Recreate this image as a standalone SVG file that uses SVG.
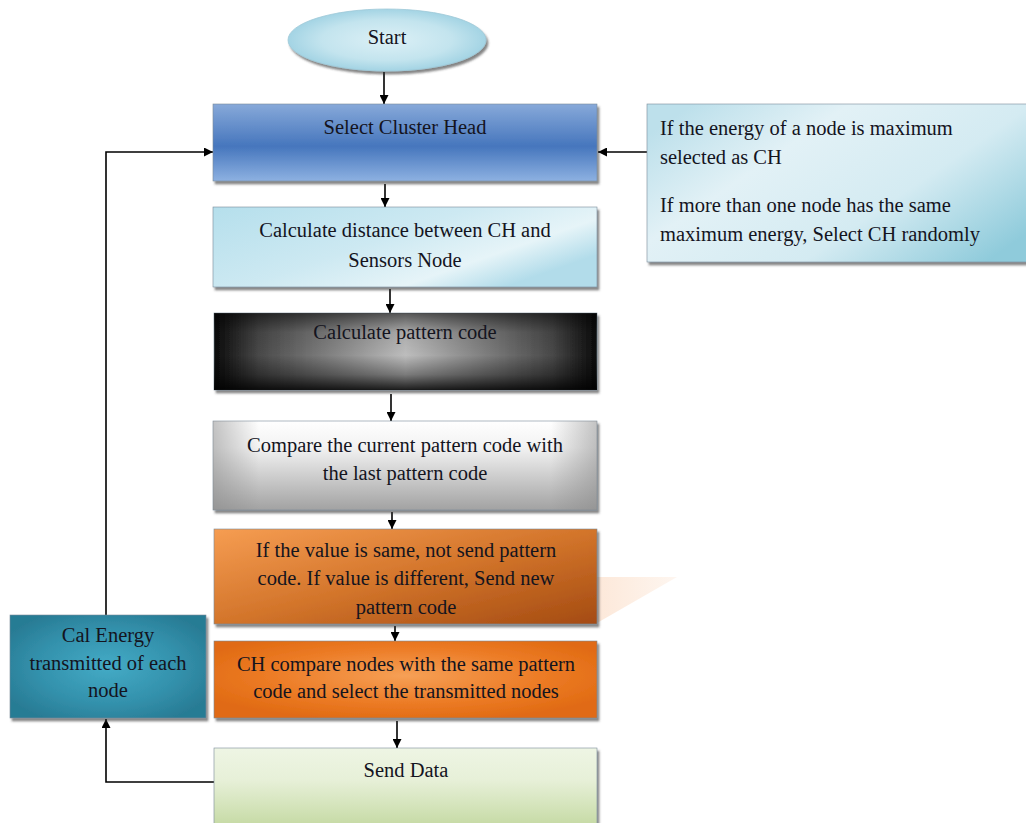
<svg xmlns="http://www.w3.org/2000/svg" width="1026" height="823" viewBox="0 0 1026 823">
  <defs>
    <marker id="arr" viewBox="0 0 10 10" refX="10" refY="5" markerWidth="9" markerHeight="9" markerUnits="userSpaceOnUse" orient="auto">
      <path d="M0,0 L10,5 L0,10 z" fill="#000"/>
    </marker>
    <filter id="sh" x="-5%" y="-5%" width="110%" height="120%">
      <feDropShadow dx="2" dy="3" stdDeviation="0.8" flood-color="#333" flood-opacity="0.6"/>
    </filter>
    <radialGradient id="gStart" cx="0.5" cy="0.5" r="0.55">
      <stop offset="0" stop-color="#dcf0f6"/>
      <stop offset="0.6" stop-color="#c3e4ee"/>
      <stop offset="1" stop-color="#9acfe1"/>
    </radialGradient>
    <linearGradient id="gSel" x1="0" y1="0" x2="0" y2="1">
      <stop offset="0" stop-color="#87a9d9"/>
      <stop offset="0.55" stop-color="#4676bd"/>
      <stop offset="1" stop-color="#8db1e1"/>
    </linearGradient>
    <linearGradient id="gDist" x1="0" y1="0" x2="1" y2="0.6">
      <stop offset="0" stop-color="#b5dfec"/>
      <stop offset="0.5" stop-color="#cde9f2"/>
      <stop offset="0.8" stop-color="#e6f4f8"/>
      <stop offset="1" stop-color="#b2dcea"/>
    </linearGradient>
    <linearGradient id="gPatH" x1="0" y1="0" x2="1" y2="0">
      <stop offset="0" stop-color="#0a0a0a"/>
      <stop offset="0.12" stop-color="#4a4a4a"/>
      <stop offset="0.5" stop-color="#bdbdbd"/>
      <stop offset="0.88" stop-color="#4a4a4a"/>
      <stop offset="1" stop-color="#0a0a0a"/>
    </linearGradient>
    <linearGradient id="gPatV" x1="0" y1="0" x2="0" y2="1">
      <stop offset="0" stop-color="#000" stop-opacity="0.55"/>
      <stop offset="0.25" stop-color="#000" stop-opacity="0.1"/>
      <stop offset="0.55" stop-color="#000" stop-opacity="0"/>
      <stop offset="0.8" stop-color="#000" stop-opacity="0.35"/>
      <stop offset="1" stop-color="#000" stop-opacity="0.85"/>
    </linearGradient>
    <linearGradient id="gCmp" x1="0" y1="0" x2="0" y2="1">
      <stop offset="0" stop-color="#ffffff"/>
      <stop offset="0.3" stop-color="#f2f2f2"/>
      <stop offset="1" stop-color="#a2a2a2"/>
    </linearGradient>
    <linearGradient id="gCmpEdge" x1="0" y1="0" x2="1" y2="0">
      <stop offset="0" stop-color="#888" stop-opacity="0.5"/>
      <stop offset="0.12" stop-color="#888" stop-opacity="0"/>
      <stop offset="0.88" stop-color="#888" stop-opacity="0"/>
      <stop offset="1" stop-color="#888" stop-opacity="0.5"/>
    </linearGradient>
    <linearGradient id="gOr1" x1="0" y1="0" x2="1" y2="1">
      <stop offset="0" stop-color="#f69d52"/>
      <stop offset="0.5" stop-color="#d3752b"/>
      <stop offset="1" stop-color="#a44b12"/>
    </linearGradient>
    <radialGradient id="gOr2" cx="0.5" cy="0.45" r="0.6">
      <stop offset="0" stop-color="#f6a056"/>
      <stop offset="0.6" stop-color="#ec7b25"/>
      <stop offset="1" stop-color="#e06a12"/>
    </radialGradient>
    <linearGradient id="gSend" x1="0" y1="0" x2="0" y2="1">
      <stop offset="0" stop-color="#eef5e4"/>
      <stop offset="0.4" stop-color="#e7f0d8"/>
      <stop offset="1" stop-color="#c4d9a2"/>
    </linearGradient>
    <radialGradient id="gCal" cx="0.5" cy="0.5" r="0.6">
      <stop offset="0" stop-color="#44abc6"/>
      <stop offset="0.6" stop-color="#3391ac"/>
      <stop offset="1" stop-color="#287b94"/>
    </radialGradient>
    <linearGradient id="gInfo" x1="0" y1="0.2" x2="1" y2="0.8">
      <stop offset="0" stop-color="#bde0eb"/>
      <stop offset="0.3" stop-color="#e2f1f6"/>
      <stop offset="0.65" stop-color="#d4ebf2"/>
      <stop offset="1" stop-color="#8fcbdb"/>
    </linearGradient>
    <linearGradient id="gTri" x1="0" y1="0" x2="1" y2="0">
      <stop offset="0" stop-color="#fbd9c0"/>
      <stop offset="1" stop-color="#fdf0e6"/>
    </linearGradient>
    <style>
      .t { font-family: "Liberation Serif", "Times New Roman", serif; font-size: 20.5px; fill: #14141e; }
      .c { text-anchor: middle; }
      .ln { fill: none; stroke: #000; stroke-width: 1.6; }
      .box { stroke: #7a8a99; stroke-width: 0.6; filter: url(#sh); }
    </style>
  </defs>

  <!-- decoration -->
  <polygon points="597,577 677,577 597,623" fill="url(#gTri)" opacity="0.6"/>

  <g id="connectors">
    <line class="ln" x1="384" y1="72" x2="384" y2="104" marker-end="url(#arr)"/>
    <line class="ln" x1="385" y1="184" x2="385" y2="207" marker-end="url(#arr)"/>
    <line class="ln" x1="390" y1="289" x2="390" y2="313" marker-end="url(#arr)"/>
    <line class="ln" x1="391" y1="394" x2="391" y2="421" marker-end="url(#arr)"/>
    <line class="ln" x1="392" y1="512" x2="392" y2="529" marker-end="url(#arr)"/>
    <line class="ln" x1="395" y1="626" x2="395" y2="641" marker-end="url(#arr)"/>
    <line class="ln" x1="397" y1="721" x2="397" y2="748" marker-end="url(#arr)"/>
    <line class="ln" x1="647" y1="152" x2="598" y2="152" marker-end="url(#arr)"/>
    <polyline class="ln" points="214,782 106,782 106,719" marker-end="url(#arr)"/>
    <polyline class="ln" points="106,615 106,152 213,152" marker-end="url(#arr)"/>
  </g>

  <g id="start">
    <ellipse cx="387" cy="40" rx="99" ry="31" fill="url(#gStart)" stroke="#9fc9d8" stroke-width="0.8" filter="url(#sh)"/>
    <text class="t c" x="387" y="44">Start</text>
  </g>

  <g id="select-ch">
    <rect class="box" x="213" y="104" width="384" height="77" fill="url(#gSel)"/>
    <text class="t c" x="405" y="134">Select Cluster Head</text>
  </g>

  <g id="calc-distance">
    <rect class="box" x="213" y="207" width="384" height="80" fill="url(#gDist)"/>
    <text class="t c" x="405" y="237">Calculate distance between CH and</text>
    <text class="t c" x="405" y="267">Sensors Node</text>
  </g>

  <g id="calc-pattern">
    <rect class="box" x="214" y="313" width="383" height="77" fill="url(#gPatH)" stroke="none"/>
    <rect x="214" y="313" width="383" height="77" fill="url(#gPatV)"/>
    <text class="t c" x="405" y="339">Calculate pattern code</text>
  </g>

  <g id="compare">
    <rect class="box" x="213" y="421" width="384" height="89" fill="url(#gCmp)"/>
    <rect x="213" y="421" width="384" height="89" fill="url(#gCmpEdge)"/>
    <text class="t c" x="405" y="452">Compare the current pattern code with</text>
    <text class="t c" x="405" y="480">the last pattern code</text>
  </g>

  <g id="send-decision">
    <rect class="box" x="214" y="529" width="383" height="95" fill="url(#gOr1)" stroke="none"/>
    <text class="t c" x="406" y="557">If the value is same, not send pattern</text>
    <text class="t c" x="406" y="585">code. If value is different, Send new</text>
    <text class="t c" x="406" y="614">pattern code</text>
  </g>

  <g id="ch-compare">
    <rect class="box" x="214" y="641" width="383" height="77" fill="url(#gOr2)" stroke="none"/>
    <text class="t c" x="406" y="671">CH compare nodes with the same pattern</text>
    <text class="t c" x="406" y="698">code and select the transmitted nodes</text>
  </g>

  <g id="send-data">
    <rect class="box" x="214" y="748" width="383" height="80" fill="url(#gSend)"/>
    <text class="t c" x="406" y="777">Send Data</text>
  </g>

  <g id="cal-energy">
    <rect class="box" x="10" y="615" width="196" height="103" fill="url(#gCal)" stroke="none"/>
    <text class="t c" x="108" y="642">Cal Energy</text>
    <text class="t c" x="108" y="670">transmitted of each</text>
    <text class="t c" x="108" y="697">node</text>
  </g>

  <g id="ch-rule">
    <rect class="box" x="647" y="104" width="385" height="158" fill="url(#gInfo)"/>
    <text class="t" x="660" y="135">If the energy  of a node is maximum</text>
    <text class="t" x="660" y="164">selected  as CH</text>
    <text class="t" x="660" y="212">If more than one node has the same</text>
    <text class="t" x="660" y="241">maximum energy, Select CH randomly</text>
  </g>
</svg>
